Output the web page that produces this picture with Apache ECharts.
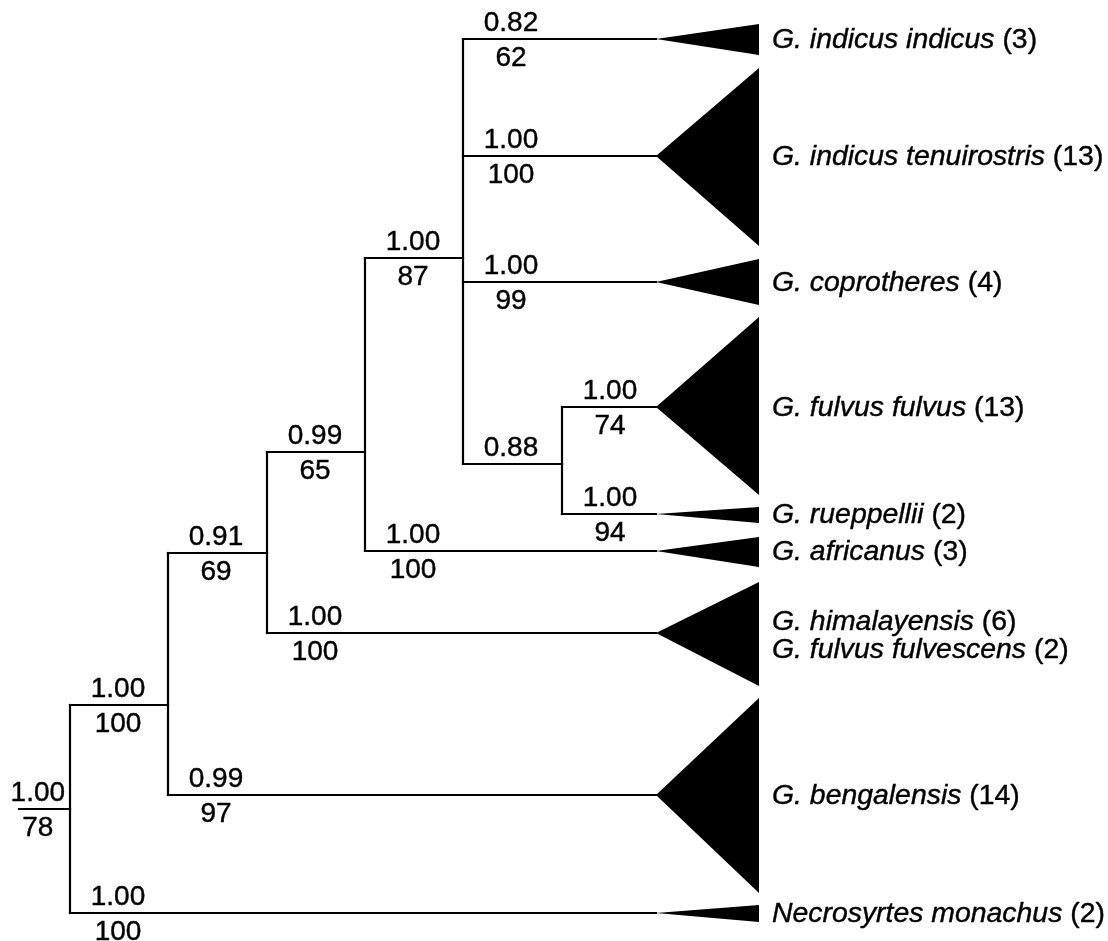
<!DOCTYPE html>
<html>
<head>
<meta charset="utf-8">
<script src="https://cdn.jsdelivr.net/npm/echarts@6/dist/echarts.min.js"></script>
<style>
html,body{margin:0;padding:0;background:#fff;}
#chart{width:1108px;height:941px;}
</style>
</head>
<body>
<div id="chart"></div>
<script>
// ---- collapsed clades (tips) ----
const cladeNames  = [['G. indicus indicus'], ['G. indicus tenuirostris'], ['G. coprotheres'], ['G. fulvus fulvus'], ['G. rueppellii'], ['G. africanus'], ['G. himalayensis', 'G. fulvus fulvescens'], ['G. bengalensis'], ['Necrosyrtes monachus']];
const cladeCounts = [[3], [13], [4], [13], [2], [3], [6, 2], [14], [2]];
const cladeY      = [39, 156, 282, 407, 514, 551, 633, 795, 913];
const cladeTop    = [24, 68, 259, 317, 507, 537, 582, 698, 905];
const cladeBottom = [55, 246, 305, 495, 523, 567, 686, 893, 922];
const tipDepth = 656;
const cladeEnd = 759;

// ---- branches (from node depth -> to node depth, at height y) ----
const branchFrom = [19, 70, 70, 168, 168, 267, 267, 365, 365, 463, 463, 463, 463, 562, 562];
const branchTo   = [70, 168, 656, 267, 656, 365, 656, 463, 656, 656, 656, 656, 562, 656, 656];
const branchY    = [809, 705, 913, 553, 795, 452, 633, 258, 551, 39, 156, 282, 464, 407, 514];
const posterior  = ['1.00', '1.00', '1.00', '0.91', '0.99', '0.99', '1.00', '1.00', '1.00', '0.82', '1.00', '1.00', '0.88', '1.00', '1.00'];
const bootstrap  = ['78', '100', '100', '69', '97', '65', '100', '87', '100', '62', '100', '99', '', '74', '94'];

const FONT = '"Liberation Sans", Arial, Helvetica, sans-serif';
const FS = 28;
const FS_TAXA = 28.4;
const INK = '#000';

// vertical connectors derived from branches sharing a parent depth
const connectors = [];
[...new Set(branchFrom)].forEach(x => {
  const ys = branchY.filter((y, i) => branchFrom[i] === x);
  if (ys.length > 1) connectors.push([x, Math.min(...ys), Math.max(...ys)]);
});

function labelCenter(i) {
  const len = branchTo[i] - branchFrom[i];
  return len < 60 ? branchFrom[i] + len * 0.37 : branchFrom[i] + 48;
}

const supportData = [];
branchFrom.forEach((f, i) => {
  supportData.push([labelCenter(i), branchY[i] - 15.5, posterior[i]]);
  if (bootstrap[i] !== '') supportData.push([labelCenter(i), branchY[i] + 19, bootstrap[i]]);
});

const tipLabelData = cladeNames.map((n, i) => [
  cladeEnd + 13,
  n.length > 1 ? (cladeTop[i] + cladeBottom[i]) / 2 + 2 : cladeY[i] + 1,
  n.map((s, k) => '{it|' + s + '} {rm|(' + cladeCounts[i][k] + ')}').join('\n')
]);

const chart = echarts.init(document.getElementById('chart'), null, { renderer: 'canvas' });

function lineItem(x1, y1, x2, y2, api) {
  const p1 = api.coord([x1, y1]);
  const p2 = api.coord([x2, y2]);
  return { type: 'line', shape: { x1: p1[0], y1: p1[1], x2: p2[0], y2: p2[1] },
           style: { stroke: INK, lineWidth: 2.2, lineCap: 'square' } };
}

chart.setOption({
  animation: false,
  backgroundColor: '#fff',
  grid: { left: 0, right: 0, top: 0, bottom: 0 },
  xAxis: { type: 'value', min: 0, max: 1108, show: false },
  yAxis: { type: 'value', min: 0, max: 941, inverse: true, show: false },
  series: [
    {
      type: 'custom', name: 'clades', silent: true, clip: false,
      data: cladeY.map((y, i) => [tipDepth, cladeEnd, y, cladeTop[i], cladeBottom[i]]),
      renderItem: (params, api) => {
        const a = api.coord([api.value(0), api.value(2)]);
        const t = api.coord([api.value(1), api.value(3)]);
        const b = api.coord([api.value(1), api.value(4)]);
        return { type: 'polygon', shape: { points: [a, t, b] }, style: { fill: INK } };
      }
    },
    {
      type: 'custom', name: 'branches', silent: true, clip: false,
      data: branchFrom.map((f, i) => [f, branchTo[i], branchY[i]]),
      renderItem: (params, api) => lineItem(api.value(0), api.value(2), api.value(1), api.value(2), api)
    },
    {
      type: 'custom', name: 'connectors', silent: true, clip: false,
      data: connectors,
      renderItem: (params, api) => lineItem(api.value(0), api.value(1), api.value(0), api.value(2), api)
    },
    {
      type: 'custom', name: 'support', silent: true, clip: false,
      dimensions: ['x', 'y', { name: 'text', type: 'ordinal' }],
      data: supportData,
      renderItem: (params, api) => {
        const d = supportData[params.dataIndex];
        const p = api.coord([d[0], d[1]]);
        return { type: 'text', x: p[0], y: p[1],
                 style: { text: d[2], fill: INK, stroke: INK, lineWidth: 0.4,
                          fontFamily: FONT, fontSize: FS, align: 'center', verticalAlign: 'middle' } };
      }
    },
    {
      type: 'custom', name: 'taxa', silent: true, clip: false,
      dimensions: ['x', 'y', { name: 'text', type: 'ordinal' }],
      data: tipLabelData,
      renderItem: (params, api) => {
        const d = tipLabelData[params.dataIndex];
        const p = api.coord([d[0], d[1]]);
        const base = { fill: INK, stroke: INK, lineWidth: 0.4, fontFamily: FONT, fontSize: FS_TAXA, lineHeight: 28 };
        return { type: 'text', x: p[0], y: p[1],
                 style: Object.assign({}, base, {
                   text: d[2], align: 'left', verticalAlign: 'middle',
                   rich: {
                     it: Object.assign({}, base, { fontStyle: 'italic' }),
                     rm: Object.assign({}, base)
                   }
                 }) };
      }
    }
  ]
});
</script>
</body>
</html>
